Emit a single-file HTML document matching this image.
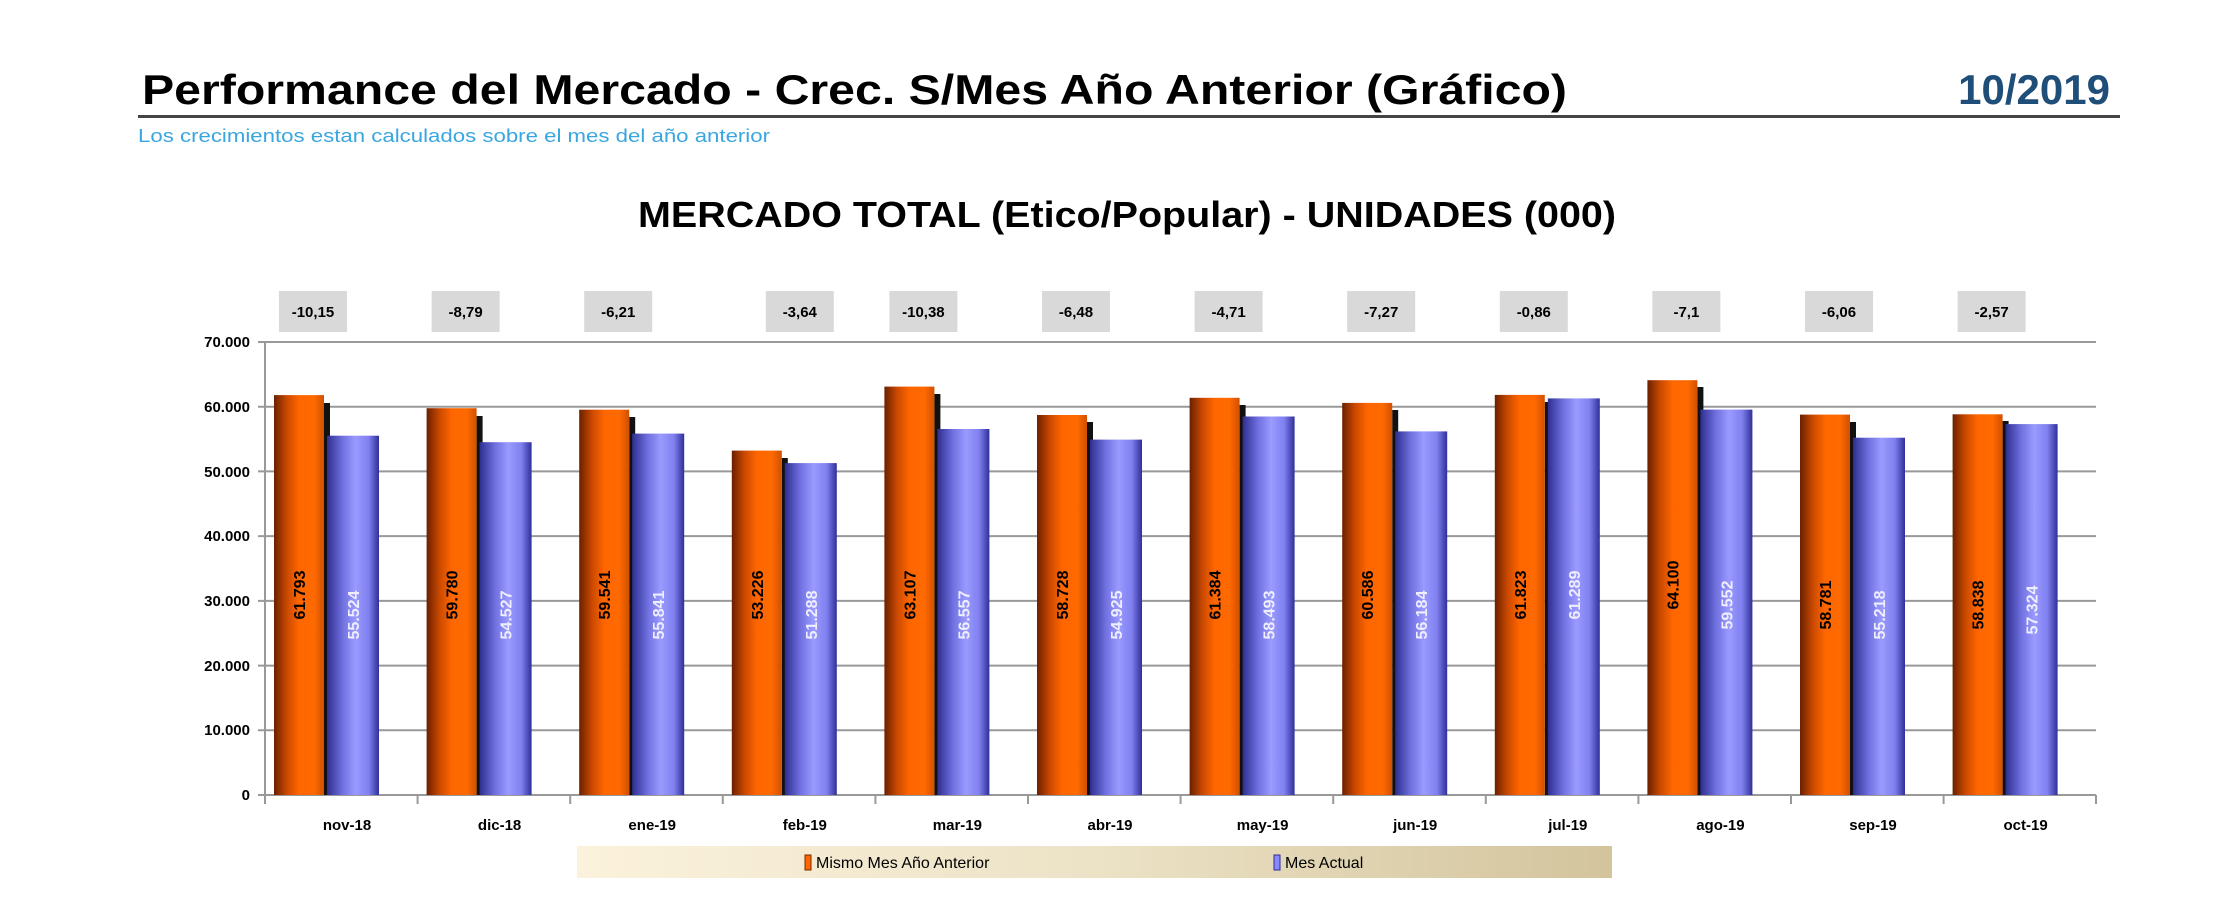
<!DOCTYPE html>
<html><head><meta charset="utf-8"><style>
html,body{margin:0;padding:0;background:#fff;}
svg{display:block;font-family:"Liberation Sans",Arial,sans-serif;}
</style></head><body>
<svg width="2223" height="900" viewBox="0 0 2223 900" xmlns="http://www.w3.org/2000/svg">
<defs>
<linearGradient id="og" x1="0" x2="1" y1="0" y2="0">
<stop offset="0" stop-color="#6a2000"/><stop offset="0.25" stop-color="#c84800"/><stop offset="0.5" stop-color="#ff6600"/><stop offset="0.8" stop-color="#ff6a00"/><stop offset="1" stop-color="#d05000"/></linearGradient>
<linearGradient id="bg" x1="0" x2="1" y1="0" y2="0">
<stop offset="0" stop-color="#2e2e90"/><stop offset="0.3" stop-color="#7070e0"/><stop offset="0.55" stop-color="#9a9aff"/><stop offset="0.8" stop-color="#8080f0"/><stop offset="1" stop-color="#30309a"/></linearGradient>
<linearGradient id="lg" x1="0" x2="1" y1="0" y2="0">
<stop offset="0" stop-color="#fbf2dc"/><stop offset="0.5" stop-color="#ece2c6"/><stop offset="1" stop-color="#d3c49c"/></linearGradient>
</defs>
<text x="142" y="104" font-size="42" font-weight="bold" fill="#000" textLength="1425" lengthAdjust="spacingAndGlyphs">Performance del Mercado - Crec. S/Mes Año Anterior (Gráfico)</text>
<text x="2110" y="104" font-size="42" font-weight="bold" fill="#1f4e79" text-anchor="end">10/2019</text>
<rect x="138" y="115" width="1982" height="3" fill="#444"/>
<text x="138" y="142" font-size="18" fill="#3aa6e0" textLength="632" lengthAdjust="spacingAndGlyphs">Los crecimientos estan calculados sobre el mes del año anterior</text>
<text x="1127" y="227" font-size="36" font-weight="bold" fill="#000" text-anchor="middle" textLength="978" lengthAdjust="spacingAndGlyphs">MERCADO TOTAL (Etico/Popular) - UNIDADES (000)</text>
<g stroke="#999" stroke-width="2">
<line x1="258" x2="2096" y1="342" y2="342"/><line x1="258" x2="2096" y1="406.7" y2="406.7"/><line x1="258" x2="2096" y1="471.4" y2="471.4"/><line x1="258" x2="2096" y1="536.1" y2="536.1"/><line x1="258" x2="2096" y1="600.9" y2="600.9"/><line x1="258" x2="2096" y1="665.6" y2="665.6"/><line x1="258" x2="2096" y1="730.3" y2="730.3"/><line x1="258" x2="2096" y1="795" y2="795"/>
<line x1="265" x2="265" y1="342" y2="795"/>
</g>
<g font-size="15" font-weight="bold" text-anchor="end" fill="#000">
<text x="250" y="347">70.000</text><text x="250" y="412">60.000</text><text x="250" y="477">50.000</text><text x="250" y="541">40.000</text><text x="250" y="606">30.000</text><text x="250" y="671">20.000</text><text x="250" y="735">10.000</text><text x="250" y="800">0</text>
</g>
<g stroke="#999" stroke-width="2">
<line x1="265" x2="265" y1="795" y2="804"/><line x1="417.6" x2="417.6" y1="795" y2="804"/><line x1="570.2" x2="570.2" y1="795" y2="804"/><line x1="722.8" x2="722.8" y1="795" y2="804"/><line x1="875.4" x2="875.4" y1="795" y2="804"/><line x1="1028" x2="1028" y1="795" y2="804"/><line x1="1180.6" x2="1180.6" y1="795" y2="804"/><line x1="1333.2" x2="1333.2" y1="795" y2="804"/><line x1="1485.8" x2="1485.8" y1="795" y2="804"/><line x1="1638.4" x2="1638.4" y1="795" y2="804"/><line x1="1791" x2="1791" y1="795" y2="804"/><line x1="1943.6" x2="1943.6" y1="795" y2="804"/><line x1="2096" x2="2096" y1="795" y2="804"/>
</g>

<g font-weight="bold">
<g transform="translate(265,0)"><rect x="14" y="291" width="68" height="41" fill="#d9d9d9"/><text x="48" y="317" font-size="15" text-anchor="middle">-10,15</text>
<rect x="59" y="403" width="6" height="392" fill="#111"/><rect x="9" y="395.1" width="50" height="399.9" fill="url(#og)"/><rect x="62" y="435.7" width="52" height="359.3" fill="url(#bg)"/>
<text transform="translate(34,595) rotate(-90)" font-size="16" text-anchor="middle" dy="6">61.793</text><text transform="translate(88,615) rotate(-90)" font-size="16" text-anchor="middle" dy="6" fill="#eef">55.524</text>
<text x="82" y="830" font-size="15" text-anchor="middle">nov-18</text></g>

<g transform="translate(417.6,0)"><rect x="14" y="291" width="68" height="41" fill="#d9d9d9"/><text x="48" y="317" font-size="15" text-anchor="middle">-8,79</text>
<rect x="59" y="416" width="6" height="379" fill="#111"/><rect x="9" y="408.2" width="50" height="386.8" fill="url(#og)"/><rect x="62" y="442.2" width="52" height="352.8" fill="url(#bg)"/>
<text transform="translate(34,595) rotate(-90)" font-size="16" text-anchor="middle" dy="6">59.780</text><text transform="translate(88,615) rotate(-90)" font-size="16" text-anchor="middle" dy="6" fill="#eef">54.527</text>
<text x="82" y="830" font-size="15" text-anchor="middle">dic-18</text></g>

<g transform="translate(570.2,0)"><rect x="14" y="291" width="68" height="41" fill="#d9d9d9"/><text x="48" y="317" font-size="15" text-anchor="middle">-6,21</text>
<rect x="59" y="417" width="6" height="378" fill="#111"/><rect x="9" y="409.7" width="50" height="385.3" fill="url(#og)"/><rect x="62" y="433.6" width="52" height="361.4" fill="url(#bg)"/>
<text transform="translate(34,595) rotate(-90)" font-size="16" text-anchor="middle" dy="6">59.541</text><text transform="translate(88,615) rotate(-90)" font-size="16" text-anchor="middle" dy="6" fill="#eef">55.841</text>
<text x="82" y="830" font-size="15" text-anchor="middle">ene-19</text></g>

<g transform="translate(722.8,0)"><rect x="43" y="291" width="68" height="41" fill="#d9d9d9"/><text x="77" y="317" font-size="15" text-anchor="middle">-3,64</text>
<rect x="59" y="458" width="6" height="337" fill="#111"/><rect x="9" y="450.6" width="50" height="344.4" fill="url(#og)"/><rect x="62" y="463.1" width="52" height="331.9" fill="url(#bg)"/>
<text transform="translate(34,595) rotate(-90)" font-size="16" text-anchor="middle" dy="6">53.226</text><text transform="translate(88,615) rotate(-90)" font-size="16" text-anchor="middle" dy="6" fill="#eef">51.288</text>
<text x="82" y="830" font-size="15" text-anchor="middle">feb-19</text></g>

<g transform="translate(875.4,0)"><rect x="14" y="291" width="68" height="41" fill="#d9d9d9"/><text x="48" y="317" font-size="15" text-anchor="middle">-10,38</text>
<rect x="59" y="394" width="6" height="401" fill="#111"/><rect x="9" y="386.6" width="50" height="408.4" fill="url(#og)"/><rect x="62" y="429" width="52" height="366" fill="url(#bg)"/>
<text transform="translate(34,595) rotate(-90)" font-size="16" text-anchor="middle" dy="6">63.107</text><text transform="translate(88,615) rotate(-90)" font-size="16" text-anchor="middle" dy="6" fill="#eef">56.557</text>
<text x="82" y="830" font-size="15" text-anchor="middle">mar-19</text></g>

<g transform="translate(1028,0)"><rect x="14" y="291" width="68" height="41" fill="#d9d9d9"/><text x="48" y="317" font-size="15" text-anchor="middle">-6,48</text>
<rect x="59" y="422" width="6" height="373" fill="#111"/><rect x="9" y="415" width="50" height="380" fill="url(#og)"/><rect x="62" y="439.6" width="52" height="355.4" fill="url(#bg)"/>
<text transform="translate(34,595) rotate(-90)" font-size="16" text-anchor="middle" dy="6">58.728</text><text transform="translate(88,615) rotate(-90)" font-size="16" text-anchor="middle" dy="6" fill="#eef">54.925</text>
<text x="82" y="830" font-size="15" text-anchor="middle">abr-19</text></g>

<g transform="translate(1180.6,0)"><rect x="14" y="291" width="68" height="41" fill="#d9d9d9"/><text x="48" y="317" font-size="15" text-anchor="middle">-4,71</text>
<rect x="59" y="405" width="6" height="390" fill="#111"/><rect x="9" y="397.8" width="50" height="397.2" fill="url(#og)"/><rect x="62" y="416.5" width="52" height="378.5" fill="url(#bg)"/>
<text transform="translate(34,595) rotate(-90)" font-size="16" text-anchor="middle" dy="6">61.384</text><text transform="translate(88,615) rotate(-90)" font-size="16" text-anchor="middle" dy="6" fill="#eef">58.493</text>
<text x="82" y="830" font-size="15" text-anchor="middle">may-19</text></g>

<g transform="translate(1333.2,0)"><rect x="14" y="291" width="68" height="41" fill="#d9d9d9"/><text x="48" y="317" font-size="15" text-anchor="middle">-7,27</text>
<rect x="59" y="410" width="6" height="385" fill="#111"/><rect x="9" y="402.9" width="50" height="392.1" fill="url(#og)"/><rect x="62" y="431.4" width="52" height="363.6" fill="url(#bg)"/>
<text transform="translate(34,595) rotate(-90)" font-size="16" text-anchor="middle" dy="6">60.586</text><text transform="translate(88,615) rotate(-90)" font-size="16" text-anchor="middle" dy="6" fill="#eef">56.184</text>
<text x="82" y="830" font-size="15" text-anchor="middle">jun-19</text></g>

<g transform="translate(1485.8,0)"><rect x="14" y="291" width="68" height="41" fill="#d9d9d9"/><text x="48" y="317" font-size="15" text-anchor="middle">-0,86</text>
<rect x="59" y="402" width="6" height="393" fill="#111"/><rect x="9" y="394.9" width="50" height="400.1" fill="url(#og)"/><rect x="62" y="398.4" width="52" height="396.6" fill="url(#bg)"/>
<text transform="translate(34,595) rotate(-90)" font-size="16" text-anchor="middle" dy="6">61.823</text><text transform="translate(88,595) rotate(-90)" font-size="16" text-anchor="middle" dy="6" fill="#eef">61.289</text>
<text x="82" y="830" font-size="15" text-anchor="middle">jul-19</text></g>

<g transform="translate(1638.4,0)"><rect x="14" y="291" width="68" height="41" fill="#d9d9d9"/><text x="48" y="317" font-size="15" text-anchor="middle">-7,1</text>
<rect x="59" y="387" width="6" height="408" fill="#111"/><rect x="9" y="380.2" width="50" height="414.8" fill="url(#og)"/><rect x="62" y="409.6" width="52" height="385.4" fill="url(#bg)"/>
<text transform="translate(34,585) rotate(-90)" font-size="16" text-anchor="middle" dy="6">64.100</text><text transform="translate(88,605) rotate(-90)" font-size="16" text-anchor="middle" dy="6" fill="#eef">59.552</text>
<text x="82" y="830" font-size="15" text-anchor="middle">ago-19</text></g>

<g transform="translate(1791,0)"><rect x="14" y="291" width="68" height="41" fill="#d9d9d9"/><text x="48" y="317" font-size="15" text-anchor="middle">-6,06</text>
<rect x="59" y="422" width="6" height="373" fill="#111"/><rect x="9" y="414.6" width="50" height="380.4" fill="url(#og)"/><rect x="62" y="437.7" width="52" height="357.3" fill="url(#bg)"/>
<text transform="translate(34,605) rotate(-90)" font-size="16" text-anchor="middle" dy="6">58.781</text><text transform="translate(88,615) rotate(-90)" font-size="16" text-anchor="middle" dy="6" fill="#eef">55.218</text>
<text x="82" y="830" font-size="15" text-anchor="middle">sep-19</text></g>

<g transform="translate(1943.6,0)"><rect x="14" y="291" width="68" height="41" fill="#d9d9d9"/><text x="48" y="317" font-size="15" text-anchor="middle">-2,57</text>
<rect x="59" y="421" width="6" height="374" fill="#111"/><rect x="9" y="414.3" width="50" height="380.7" fill="url(#og)"/><rect x="62" y="424.1" width="52" height="370.9" fill="url(#bg)"/>
<text transform="translate(34,605) rotate(-90)" font-size="16" text-anchor="middle" dy="6">58.838</text><text transform="translate(88,610) rotate(-90)" font-size="16" text-anchor="middle" dy="6" fill="#eef">57.324</text>
<text x="82" y="830" font-size="15" text-anchor="middle">oct-19</text></g>
</g>

<rect x="577" y="846" width="1035" height="32" fill="url(#lg)"/>
<rect x="805" y="855" width="6" height="15" fill="#ff6600" stroke="#7a2a00" stroke-width="1"/>
<text x="816" y="868" font-size="16" fill="#000">Mismo Mes Año Anterior</text>
<rect x="1274" y="855" width="6" height="15" fill="#8888ff" stroke="#2e2e90" stroke-width="1"/>
<text x="1285" y="868" font-size="16" fill="#000">Mes Actual</text>
</svg>
</body></html>
